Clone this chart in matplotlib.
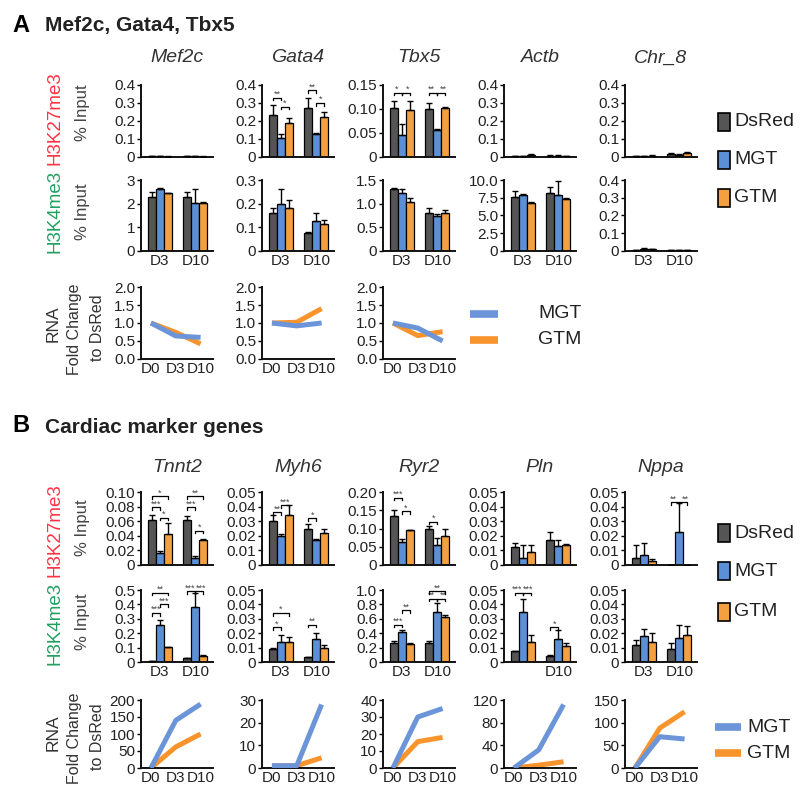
import matplotlib
matplotlib.use('Agg')
import matplotlib.pyplot as plt
from matplotlib.patches import Rectangle
from matplotlib.lines import Line2D
import numpy as np

W, H = 800, 797
REG = ['Liberation Sans', 'DejaVu Sans']
plt.rcParams['font.family'] = REG

# ---------------- data ----------------
conditions = ['DsRed', 'MGT', 'GTM']
bar_colors = ['#555555', '#5b8fd6', '#f5a040']
line_colors = {'MGT': '#6b95d8', 'GTM': '#f7942d'}
days_bar = ['D3', 'D10']
days_rna = ['D0', 'D3', 'D10']
genes_A = ['Mef2c', 'Gata4', 'Tbx5', 'Actb', 'Chr_8']
genes_B = ['Tnnt2', 'Myh6', 'Ryr2', 'Pln', 'Nppa']

# values: [[D3 DsRed, MGT, GTM], [D10 DsRed, MGT, GTM]]
A_K27_mean = {
    'Mef2c': [[0.006, 0.004, 0.002], [0.006, 0.005, 0.002]],
    'Gata4': [[0.235, 0.105, 0.19], [0.27, 0.13, 0.22]],
    'Tbx5': [[0.103, 0.045, 0.098], [0.099, 0.057, 0.103]],
    'Actb': [[0.004, 0.005, 0.010], [0.008, 0.006, 0.004]],
    'Chr_8': [[0.004, 0.004, 0.008], [0.018, 0.012, 0.025]],
}
A_K27_err = {
    'Mef2c': [[0.002, 0.001, 0.001], [0.002, 0.002, 0.001]],
    'Gata4': [[0.055, 0.025, 0.025], [0.06, 0.005, 0.03]],
    'Tbx5': [[0.013, 0.023, 0.018], [0.014, 0.002, 0.002]],
    'Actb': [[0.002, 0.002, 0.004], [0.004, 0.003, 0.002]],
    'Chr_8': [[0.002, 0.002, 0.004], [0.005, 0.003, 0.002]],
}
A_K27_ticks = {
    'Mef2c': ['0', '0.1', '0.2', '0.3', '0.4'],
    'Gata4': ['0', '0.1', '0.2', '0.3', '0.4'],
    'Tbx5': ['0', '0.05', '0.10', '0.15'],
    'Actb': ['0', '0.1', '0.2', '0.3', '0.4'],
    'Chr_8': ['0', '0.1', '0.2', '0.3', '0.4'],
}
# brackets: (group, bar_a, bar_b, height, label)
A_K27_sig = {
    'Gata4': [(0, 0, 1, 0.33, '**'), (0, 1, 2, 0.28, '*'),
              (1, 0, 1, 0.37, '**'), (1, 1, 2, 0.30, '*')],
    'Tbx5': [(0, 0, 1, 0.134, '*'), (0, 1, 2, 0.134, '*'),
             (1, 0, 1, 0.134, '**'), (1, 1, 2, 0.134, '**')],
}

A_K4_mean = {
    'Mef2c': [[2.28, 2.6, 2.43], [2.28, 2.03, 2.03]],
    'Gata4': [[0.16, 0.2, 0.18], [0.078, 0.127, 0.113]],
    'Tbx5': [[1.31, 1.22, 1.03], [0.8, 0.73, 0.8]],
    'Actb': [[7.6, 7.9, 6.75], [8.2, 7.9, 7.3]],
    'Chr_8': [[0.005, 0.01, 0.01], [0.004, 0.004, 0.003]],
}
A_K4_err = {
    'Mef2c': [[0.22, 0.05, 0.02], [0.22, 0.58, 0.05]],
    'Gata4': [[0.02, 0.06, 0.035], [0.004, 0.033, 0.02]],
    'Tbx5': [[0.03, 0.1, 0.1], [0.1, 0.05, 0.07]],
    'Actb': [[0.85, 0.15, 0.1], [0.8, 1.95, 0.15]],
    'Chr_8': [[0.003, 0.005, 0.004], [0.001, 0.001, 0.001]],
}
A_K4_ticks = {
    'Mef2c': ['0', '1', '2', '3'],
    'Gata4': ['0', '0.1', '0.2', '0.3'],
    'Tbx5': ['0', '0.5', '1.0', '1.5'],
    'Actb': ['0', '2.5', '5.0', '7.5', '10.0'],
    'Chr_8': ['0', '0.1', '0.2', '0.3', '0.4'],
}

A_RNA_MGT = {'Mef2c': [1.0, 0.64, 0.6], 'Gata4': [1.0, 0.92, 1.0], 'Tbx5': [1.0, 0.86, 0.5]}
A_RNA_GTM = {'Mef2c': [1.0, 0.74, 0.42], 'Gata4': [1.0, 1.02, 1.4], 'Tbx5': [1.0, 0.65, 0.76]}
A_RNA_ticks = ['0.0', '0.5', '1.0', '1.5', '2.0']

B_K27_mean = {
    'Tnnt2': [[0.062, 0.017, 0.043], [0.062, 0.01, 0.034]],
    'Myh6': [[0.030, 0.020, 0.034], [0.025, 0.017, 0.022]],
    'Ryr2': [[0.135, 0.062, 0.095], [0.1, 0.055, 0.08]],
    'Pln': [[0.0123, 0.0048, 0.009], [0.017, 0.013, 0.0137]],
    'Nppa': [[0.0048, 0.0068, 0.003], [0.0, 0.0226, 0.0]],
}
B_K27_err = {
    'Tnnt2': [[0.007, 0.002, 0.015], [0.005, 0.002, 0.002]],
    'Myh6': [[0.004, 0.001, 0.007], [0.003, 0.001, 0.003]],
    'Ryr2': [[0.015, 0.008, 0.002], [0.006, 0.02, 0.02]],
    'Pln': [[0.0027, 0.009, 0.0047], [0.0056, 0.004, 0.001]],
    'Nppa': [[0.009, 0.008, 0.001], [0.0, 0.02, 0.0]],
}
B_K27_ticks = {
    'Tnnt2': ['0', '0.02', '0.04', '0.06', '0.08', '0.10'],
    'Myh6': ['0', '0.01', '0.02', '0.03', '0.04', '0.05'],
    'Ryr2': ['0', '0.05', '0.10', '0.15', '0.20'],
    'Pln': ['0', '0.01', '0.02', '0.03', '0.04', '0.05'],
    'Nppa': ['0', '0.01', '0.02', '0.03', '0.04', '0.05'],
}
B_K27_sig = {
    'Tnnt2': [(0, 0, 2, 0.094, '*'), (0, 0, 1, 0.079, '***'), (0, 1, 2, 0.065, '*'),
              (1, 0, 2, 0.094, '**'), (1, 0, 1, 0.079, '***'), (1, 1, 2, 0.047, '*')],
    'Myh6': [(0, 0, 1, 0.036, '**'), (0, 1, 2, 0.041, '***'), (1, 0, 1, 0.032, '*')],
    'Ryr2': [(0, 0, 1, 0.184, '***'), (0, 1, 2, 0.147, '*'), (1, 0, 1, 0.119, '*')],
    'Nppa': [(1, 0, 1, 0.043, '**'), (1, 1, 2, 0.043, '**')],
}

B_K4_mean = {
    'Tnnt2': [[0.01, 0.26, 0.105], [0.025, 0.38, 0.045]],
    'Myh6': [[0.009, 0.014, 0.014], [0.0035, 0.016, 0.0097]],
    'Ryr2': [[0.27, 0.42, 0.25], [0.27, 0.69, 0.62]],
    'Pln': [[0.0075, 0.035, 0.014], [0.004, 0.016, 0.011]],
    'Nppa': [[0.012, 0.018, 0.014], [0.009, 0.017, 0.019]],
}
B_K4_err = {
    'Tnnt2': [[0.0, 0.035, 0.0], [0.005, 0.1, 0.005]],
    'Myh6': [[0.001, 0.005, 0.0035], [0.0, 0.004, 0.002]],
    'Ryr2': [[0.02, 0.03, 0.02], [0.02, 0.13, 0.03]],
    'Pln': [[0.0, 0.009, 0.005], [0.001, 0.006, 0.002]],
    'Nppa': [[0.003, 0.005, 0.006], [0.004, 0.009, 0.006]],
}
B_K4_ticks = {
    'Tnnt2': ['0', '0.1', '0.2', '0.3', '0.4', '0.5'],
    'Myh6': ['0', '0.01', '0.02', '0.03', '0.04', '0.05'],
    'Ryr2': ['0', '0.2', '0.4', '0.6', '0.8', '1.0'],
    'Pln': ['0', '0.01', '0.02', '0.03', '0.04', '0.05'],
    'Nppa': ['0', '0.01', '0.02', '0.03', '0.04', '0.05'],
}
B_K4_sig = {
    'Tnnt2': [(0, 0, 2, 0.48, '**'), (0, 1, 2, 0.40, '***'), (0, 0, 1, 0.34, '***'),
              (1, 0, 1, 0.49, '***'), (1, 1, 2, 0.49, '***')],
    'Myh6': [(0, 0, 2, 0.034, '*'), (0, 0, 1, 0.024, '*'), (1, 0, 1, 0.026, '**')],
    'Ryr2': [(0, 0, 1, 0.52, '***'), (0, 1, 2, 0.72, '**'),
             (1, 0, 2, 0.98, '**'), (1, 0, 1, 0.88, '**'), (1, 1, 2, 0.88, '**')],
    'Pln': [(0, 0, 1, 0.048, '***'), (0, 1, 2, 0.048, '***'), (1, 0, 1, 0.024, '*')],
}
B_K4_xlabels = {'Pln': ['', 'D10']}

B_RNA_MGT = {'Tnnt2': [0, 140, 188], 'Myh6': [1, 1, 28], 'Ryr2': [0, 30, 35],
             'Pln': [0, 32, 112], 'Nppa': [0, 69, 64]}
B_RNA_GTM = {'Tnnt2': [0, 62, 100], 'Myh6': [1, 1, 4.5], 'Ryr2': [0, 15.5, 18],
             'Pln': [0, 5, 11], 'Nppa': [0, 88, 124]}
B_RNA_ticks = {
    'Tnnt2': ['0', '50', '100', '150', '200'],
    'Myh6': ['0', '10', '20', '30'],
    'Ryr2': ['0', '10', '20', '30', '40'],
    'Pln': ['0', '40', '80', '120'],
    'Nppa': ['0', '50', '100', '150'],
}

# ---------------- layout helpers ----------------
fig = plt.figure(figsize=(W / 100, H / 100), dpi=100)
col_left = [141, 262, 383, 504, 625]
AX_W = 72
GAP = 4.4
TXT = '#222222'


def px_axes(left, top, w, h):
    return fig.add_axes([left / W, 1 - (top + h) / H, w / W, h / H])


def style(ax):
    for s in ['top', 'right']:
        ax.spines[s].set_visible(False)
    for s in ['left', 'bottom']:
        ax.spines[s].set_linewidth(1.4)
        ax.spines[s].set_color('#111111')
    ax.tick_params(axis='y', length=3, width=1.0, pad=1.2, labelsize=11,
                   labelcolor=TXT, direction='out')
    ax.tick_params(axis='x', length=0, pad=2, labelsize=11, labelcolor=TXT)
    ax.patch.set_alpha(0)


def tick_vals(labels):
    return [float(t) for t in labels]


def bar_panel(ax, mean, err, ticks, sig=None, xlabels=None, show_x=True):
    style(ax)
    mean = np.asarray(mean)
    err = np.asarray(err)
    for i, c in enumerate(conditions):
        xs = np.array([g * GAP + i for g in range(len(days_bar))])
        ax.bar(xs, mean[:, i], width=1.0, color=bar_colors[i], edgecolor='black',
               linewidth=0.9, zorder=2)
        e = err[:, i]
        ax.errorbar(xs, mean[:, i], yerr=[np.zeros_like(e), e], fmt='none',
                    ecolor='black', elinewidth=1.0, capsize=2.5, capthick=1.0, zorder=3)
    tv = tick_vals(ticks)
    ax.set_ylim(0, tv[-1])
    ax.set_yticks(tv)
    ax.set_yticklabels(ticks)
    ax.set_xlim(-1.35, 7.6)
    ax.set_xticks([1, GAP + 1])
    if show_x:
        ax.set_xticklabels(xlabels if xlabels else days_bar)
    else:
        ax.set_xticklabels(['', ''])
    if sig:
        ymax = tv[-1]
        d = ymax * 0.035
        for g, a, b, y, lab in sig:
            x1 = g * GAP + a
            x2 = g * GAP + b
            # nudge labels of side-by-side brackets at the same height apart
            shift = 0.0
            for g2, a2, b2, y2, _ in sig:
                if g2 == g and y2 == y and (a2, b2) != (a, b):
                    shift = 0.2 if (a + b) > (a2 + b2) else -0.2
            ax.plot([x1, x1, x2, x2], [y - d, y, y, y - d], color='black', lw=0.9,
                    clip_on=False, zorder=4)
            ax.text((x1 + x2) / 2 + shift, y - ymax * 0.015, lab, ha='center',
                    va='bottom', fontsize=6.5, color='#444444', clip_on=False)


def rna_panel(ax, mgt, gtm, ticks):
    style(ax)
    x = np.arange(len(days_rna))
    ax.plot(x, gtm, color=line_colors['GTM'], lw=3.6, solid_capstyle='butt', zorder=2)
    ax.plot(x, mgt, color=line_colors['MGT'], lw=3.6, solid_capstyle='butt', zorder=3)
    tv = tick_vals(ticks)
    ax.set_ylim(0, tv[-1])
    ax.set_yticks(tv)
    ax.set_yticklabels(ticks)
    ax.set_xlim(-0.4, 2.5)
    ax.set_xticks(x)
    ax.set_xticklabels(days_rna)


# ---------------- panel A ----------------
fig.text(12 / W, 1 - 25 / H, 'A', fontsize=17, fontweight='bold', color='black',
         va='center', ha='left')
fig.text(45 / W, 1 - 26 / H, 'Mef2c, Gata4, Tbx5', fontsize=15, fontweight='bold',
         color='#222222', va='center', ha='left')

for k, g in enumerate(genes_A):
    fig.text((col_left[k] + 36) / W, 1 - 58 / H, g, fontsize=14, style='italic',
             color='#333333', ha='center', va='center')
    ax = px_axes(col_left[k], 85, AX_W, 72)
    bar_panel(ax, A_K27_mean[g], A_K27_err[g], A_K27_ticks[g], A_K27_sig.get(g),
              show_x=False)
    ax = px_axes(col_left[k], 180, AX_W, 71)
    bar_panel(ax, A_K4_mean[g], A_K4_err[g], A_K4_ticks[g])
    if g in A_RNA_MGT:
        ax = px_axes(col_left[k], 287, AX_W, 72)
        rna_panel(ax, A_RNA_MGT[g], A_RNA_GTM[g], A_RNA_ticks)

# ---------------- panel B ----------------
fig.text(12 / W, 1 - 425 / H, 'B', fontsize=17, fontweight='bold', color='black',
         va='center', ha='left')
fig.text(45 / W, 1 - 427 / H, 'Cardiac marker genes', fontsize=15, fontweight='bold',
         color='#222222', va='center', ha='left')

for k, g in enumerate(genes_B):
    fig.text((col_left[k] + 36) / W, 1 - 468 / H, g, fontsize=14, style='italic',
             color='#333333', ha='center', va='center')
    ax = px_axes(col_left[k], 492, AX_W, 73)
    bar_panel(ax, B_K27_mean[g], B_K27_err[g], B_K27_ticks[g], B_K27_sig.get(g),
              show_x=False)
    ax = px_axes(col_left[k], 590, AX_W, 72)
    bar_panel(ax, B_K4_mean[g], B_K4_err[g], B_K4_ticks[g], B_K4_sig.get(g),
              xlabels=B_K4_xlabels.get(g))
    ax = px_axes(col_left[k], 700, AX_W, 68)
    rna_panel(ax, B_RNA_MGT[g], B_RNA_GTM[g], B_RNA_ticks[g])

# ---------------- row labels ----------------
for yc_mark, yc_inp in [(118, 113), (530, 528)]:
    fig.text(55 / W, 1 - yc_mark / H, 'H3K27me3', rotation=90, color='#ff3344',
             fontsize=13.5, ha='center', va='center')
    fig.text(83 / W, 1 - yc_inp / H, '% Input', rotation=90, color='#444444',
             fontsize=12, ha='center', va='center')
for yc_mark, yc_inp in [(211, 212), (623, 622)]:
    fig.text(55 / W, 1 - yc_mark / H, 'H3K4me3', rotation=90, color='#22a060',
             fontsize=13.5, ha='center', va='center')
    fig.text(83 / W, 1 - yc_inp / H, '% Input', rotation=90, color='#444444',
             fontsize=12, ha='center', va='center')
for yc in [326, 735]:
    fig.text(53 / W, 1 - (yc - 2) / H, 'RNA', rotation=90, color='#333333', fontsize=12.5,
             ha='center', va='center')
    fig.text(75 / W, 1 - (yc + 3) / H, 'Fold Change', rotation=90, color='#333333',
             fontsize=11.5, ha='center', va='center')
    fig.text(97 / W, 1 - (yc + 2) / H, 'to DsRed', rotation=90, color='#333333',
             fontsize=11.5, ha='center', va='center')

# ---------------- legends ----------------
for y0 in [(122, 160, 198), (533, 571, 612)]:
    for yc, c, lab in zip(y0, bar_colors, conditions):
        fig.patches.append(Rectangle((718 / W, 1 - (yc + 9) / H), 12 / W, 18 / H,
                                     transform=fig.transFigure, facecolor=c,
                                     edgecolor='black', linewidth=1.2))
        fig.text(734 / W, 1 - yc / H, lab, fontsize=14, color='#222222',
                 ha='left', va='center')

for (x0, x1, xt, ys, fs) in [(470, 498, 538, (314, 340), 14), (715, 741, 747, (727, 753), 14)]:
    for yc, lab in zip(ys, ['MGT', 'GTM']):
        fig.lines.append(Line2D([x0 / W, x1 / W], [1 - yc / H, 1 - yc / H],
                                transform=fig.transFigure, color=line_colors[lab],
                                lw=5.5, solid_capstyle='butt'))
        fig.text(xt / W, 1 - yc / H, lab, fontsize=fs, color='#222222',
                 ha='left', va='center')

fig.savefig('out.png', dpi=100)
